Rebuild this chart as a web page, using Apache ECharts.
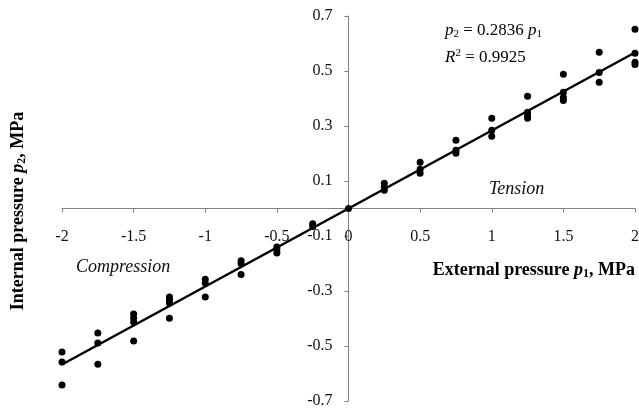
<!DOCTYPE html>
<html>
<head>
<meta charset="utf-8">
<script src="https://cdn.jsdelivr.net/npm/echarts@6/dist/echarts.min.js"></script>
<style>
  html, body { margin: 0; padding: 0; background: #fff; }
  #chart { width: 639px; height: 412px; }
</style>
</head>
<body>
<div id="chart"></div>
<script>
// measured points, external pressure p1 vs internal pressure p2 (MPa)
var extPressure = [
  -2, -2, -2,
  -1.75, -1.75, -1.75,
  -1.5, -1.5, -1.5, -1.5,
  -1.25, -1.25, -1.25, -1.25,
  -1, -1, -1,
  -0.75, -0.75, -0.75,
  -0.5, -0.5, -0.5,
  -0.25, -0.25,
  0,
  0.25, 0.25, 0.25,
  0.5, 0.5, 0.5,
  0.75, 0.75, 0.75,
  1, 1, 1,
  1.25, 1.25, 1.25, 1.25,
  1.5, 1.5, 1.5, 1.5,
  1.75, 1.75, 1.75,
  2, 2, 2, 2
];
var intPressure = [
  -0.522, -0.558, -0.642,
  -0.453, -0.489, -0.566,
  -0.384, -0.399, -0.413, -0.482,
  -0.322, -0.333, -0.344, -0.399,
  -0.257, -0.271, -0.322,
  -0.19, -0.2, -0.24,
  -0.14, -0.15, -0.162,
  -0.055, -0.065,
  0,
  0.092, 0.077, 0.066,
  0.168, 0.143, 0.128,
  0.248, 0.212, 0.201,
  0.328, 0.285, 0.263,
  0.408, 0.35, 0.336, 0.328,
  0.488, 0.423, 0.404, 0.393,
  0.568, 0.495, 0.459,
  0.652, 0.565, 0.532, 0.524
];

// fitted line p2 = 0.2836 p1, end points
var fitX = [-2, 2];
var fitY = [-0.5672, 0.5672];

var xMin = -2, xMax = 2, yMin = -0.7, yMax = 0.7;

var W = 639, H = 412;
var gLeft = 62, gRight = 4, gTop = 16, gBottom = 11;
// put both axes through the origin
var xAxisOffset = -((H - gBottom) - (gTop + (yMax / (yMax - yMin)) * (H - gTop - gBottom)));
var yAxisOffset = -((-xMin / (xMax - xMin)) * (W - gLeft - gRight));

var serif = '"Liberation Serif", "DejaVu Serif", serif';

var points = [];
for (var i = 0; i < extPressure.length; i++) {
  points.push([extPressure[i], intPressure[i]]);
}
var fitLine = [];
for (var j = 0; j < fitX.length; j++) {
  fitLine.push([fitX[j], fitY[j]]);
}

var chart = echarts.init(document.getElementById('chart'));

var rich = {
  i: { fontFamily: serif, fontSize: 17, fontStyle: 'italic', color: '#111' },
  t: { fontFamily: serif, fontSize: 17, color: '#111' },
  sub: { fontFamily: serif, fontSize: 11, color: '#111', verticalAlign: 'bottom', padding: [8, 0, 0, 0] },
  sup: { fontFamily: serif, fontSize: 11, color: '#111', verticalAlign: 'top', padding: [0, 0, 8, 0] },
  b: { fontFamily: serif, fontSize: 18, fontWeight: 'bold', color: '#111' },
  bi: { fontFamily: serif, fontSize: 18, fontStyle: 'italic', fontWeight: 'bold', color: '#111' },
  bsub: { fontFamily: serif, fontSize: 12, fontWeight: 'bold', color: '#111', verticalAlign: 'bottom', padding: [8, 0, 0, 0] }
};

chart.setOption({
  animation: false,
  backgroundColor: '#fff',
  grid: { left: gLeft, right: gRight, top: gTop, bottom: gBottom, containLabel: false, outerBoundsMode: 'none' },
  xAxis: {
    type: 'value',
    min: xMin,
    max: xMax,
    interval: 0.5,
    offset: xAxisOffset,
    splitLine: { show: false },
    axisLine: { onZero: false, lineStyle: { color: '#808080', width: 1 } },
    axisTick: { show: true, inside: false, length: 4, lineStyle: { color: '#808080' } },
    axisLabel: {
      margin: 20,
      color: '#111',
      fontFamily: serif,
      fontSize: 16,
      formatter: function (v) { return String(Math.round(v * 10) / 10); }
    }
  },
  yAxis: {
    type: 'value',
    min: yMin,
    max: yMax,
    interval: 0.2,
    offset: yAxisOffset,
    splitLine: { show: false },
    axisLine: { onZero: false, lineStyle: { color: '#808080', width: 1 } },
    axisTick: { show: true, inside: false, length: 4, lineStyle: { color: '#808080' } },
    axisLabel: {
      margin: 16,
      color: '#111',
      fontFamily: serif,
      fontSize: 16,
      formatter: function (v) { return v.toFixed(1); }
    }
  },
  series: [
    {
      name: 'fit',
      type: 'line',
      data: fitLine,
      symbol: 'none',
      lineStyle: { color: '#000', width: 2.5 },
      z: 2
    },
    {
      name: 'measured',
      type: 'scatter',
      data: points,
      symbol: 'circle',
      symbolSize: 7,
      itemStyle: { color: '#000', opacity: 1 },
      z: 3
    }
  ],
  graphic: [
    {
      type: 'text', left: 445, top: 22,
      style: { text: '{i|p}{sub|2}{t| = 0.2836 }{i|p}{sub|1}', rich: rich }
    },
    {
      type: 'text', left: 445, top: 48,
      style: { text: '{i|R}{sup|2}{t| = 0.9925}', rich: rich }
    },
    {
      type: 'text', left: 489, top: 180,
      style: { text: 'Tension', fontFamily: serif, fontSize: 18, fontStyle: 'italic', fill: '#111' }
    },
    {
      type: 'text', left: 76, top: 258,
      style: { text: 'Compression', fontFamily: serif, fontSize: 18, fontStyle: 'italic', fill: '#111' }
    },
    {
      type: 'text', right: 4, top: 261,
      style: { text: '{b|External pressure }{bi|p}{bsub|1}{b|, MPa}', rich: rich }
    },
    {
      type: 'text', x: 18, y: 211, rotation: Math.PI / 2,
      style: {
        text: '{b|Internal pressure }{bi|p}{bsub|2}{b|, MPa}',
        align: 'center', verticalAlign: 'middle',
        rich: rich
      }
    }
  ]
});
</script>
</body>
</html>
